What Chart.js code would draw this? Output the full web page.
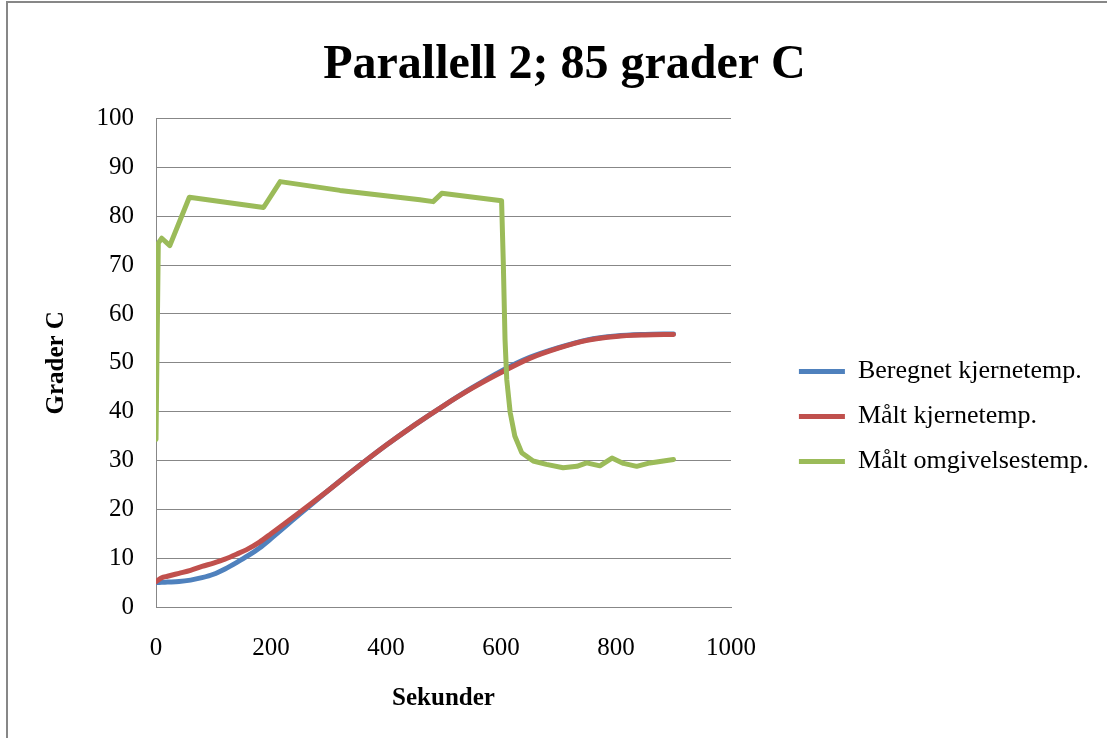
<!DOCTYPE html>
<html><head><meta charset="utf-8">
<script src="https://cdn.jsdelivr.net/npm/chart.js@4.4.1/dist/chart.umd.min.js"></script>
<style>
html,body{margin:0;padding:0;background:#fff;}
#wrap{position:relative;width:1107px;height:738px;overflow:hidden;background:#fff;}
#c{position:absolute;left:0;top:0;}
#frame{position:absolute;left:6px;top:1px;width:1200px;height:800px;border:2px solid #878787;pointer-events:none;}
</style></head><body>
<div id="wrap"><canvas id="c" width="1107" height="738" style="width:1107px;height:738px"></canvas><div id="frame"></div></div>
<script>
const chartTitle = 'Parallell 2; 85 grader C';
const xTitle = 'Sekunder';
const yTitle = 'Grader C';
const seriesNames = ['Beregnet kjernetemp.', 'Målt kjernetemp.', 'Målt omgivelsestemp.'];
const xTicks = [0, 200, 400, 600, 800, 1000];
const yTicks = [0, 10, 20, 30, 40, 50, 60, 70, 80, 90, 100];

const coreTime = [0, 10, 20, 40, 60, 80, 100, 120, 140, 160, 180, 200, 250, 300, 350, 400, 450, 500, 550, 600, 650, 700, 750, 800, 850, 900];
const beregnet = [5.0, 5.05, 5.1, 5.2, 5.5, 6.0, 6.7, 7.8, 9.1, 10.5, 12.1, 14.0, 19.0, 23.9, 28.6, 33.1, 37.3, 41.2, 44.9, 48.3, 51.1, 53.1, 54.7, 55.5, 55.8, 55.9];
const maltKjerne = [5.2, 6.0, 6.3, 6.9, 7.5, 8.3, 9.0, 9.8, 10.8, 11.9, 13.3, 15.0, 19.4, 23.9, 28.6, 33.1, 37.3, 41.2, 44.8, 48.0, 50.9, 53.0, 54.6, 55.4, 55.7, 55.8];

const ambientTime = [0, 4, 10, 24, 58, 187, 216, 320, 459, 482, 497, 601, 604, 607, 610, 616, 624, 636, 656, 679, 708, 732, 749, 772, 793, 813, 836, 859, 900];
const maltOmgivelse = [34.3, 74.5, 75.5, 74.0, 83.9, 81.8, 87.1, 85.3, 83.4, 83.0, 84.7, 83.2, 70.5, 54.8, 46.6, 39.8, 35.0, 31.6, 29.9, 29.2, 28.5, 28.8, 29.5, 28.9, 30.5, 29.4, 28.8, 29.5, 30.2];

const colors = ['#4F81BD', '#C0504D', '#9BBB59'];
const gridColor = '#878787';
const serif = "'Liberation Serif', 'Times New Roman', serif";

Chart.defaults.font.family = serif;
Chart.defaults.color = '#000';

// layout targets (pixels)
const W = 1107, padL = 30, padR = 8, padB = 23;
const plotLeft = 156, plotRight = 731, plotBottom = 607;
const legendFont = 26, legendLine = 46, legendPad = 19;

// measure legend width the way Chart.js does, so the gap to the plot can be sized
const mctx = document.createElement('canvas').getContext('2d');
mctx.font = legendFont + "px " + serif;
const maxText = Math.max.apply(null, seriesNames.map(s => mctx.measureText(s).width));
const legendWidth = legendPad + legendLine + legendFont / 2 + maxText;
const gapWidth = Math.max(0, (W - padR - legendWidth) - plotRight - 10);

const pts = (xs, ys) => xs.map((x, i) => ({x: x, y: ys[i]}));

new Chart(document.getElementById('c'), {
  type: 'scatter',
  data: {
    datasets: [
      {label: seriesNames[0], data: pts(coreTime, beregnet), borderColor: colors[0], backgroundColor: colors[0], order: 3, cubicInterpolationMode: 'monotone'},
      {label: seriesNames[1], data: pts(coreTime, maltKjerne), borderColor: colors[1], backgroundColor: colors[1], order: 2, cubicInterpolationMode: 'monotone'},
      {label: seriesNames[2], data: pts(ambientTime, maltOmgivelse), borderColor: colors[2], backgroundColor: colors[2], order: 1, tension: 0}
    ].map(d => Object.assign({showLine: true, pointRadius: 0, pointHoverRadius: 0, borderWidth: 5, fill: false, borderCapStyle: 'round', borderJoinStyle: 'round'}, d))
  },
  options: {
    responsive: false,
    animation: false,
    events: [],
    layout: {padding: {left: padL, right: padR, top: 0, bottom: padB}},
    plugins: {
      title: {
        display: true, text: chartTitle, color: '#000',
        font: {family: serif, size: 48, weight: 'bold', lineHeight: 1.2},
        padding: {top: 37, bottom: 24}
      },
      legend: {
        position: 'right', align: 'start', fullSize: false, maxWidth: 420,
        title: {display: true, text: '', font: {size: 10, lineHeight: 1}, padding: {top: 211, bottom: 0}},
        labels: {
          usePointStyle: true, pointStyle: 'line', pointStyleWidth: legendLine,
          font: {family: serif, size: legendFont}, color: '#000', padding: legendPad,
          sort: (a, b) => a.datasetIndex - b.datasetIndex
        }
      },
      tooltip: {enabled: false}
    },
    scales: {
      x: {
        type: 'linear', position: 'bottom',
        min: xTicks[0], max: xTicks[xTicks.length - 1],
        afterBuildTicks: s => { s.ticks = xTicks.map(v => ({value: v})); },
        afterFit: s => { s.height = 738 - padB - plotBottom; },
        grid: {display: false, drawTicks: false},
        border: {display: true, color: gridColor, width: 1},
        ticks: {font: {family: serif, size: 25}, color: '#000', padding: 26, maxRotation: 0, callback: v => String(v)},
        title: {display: true, text: xTitle, color: '#000', font: {family: serif, size: 25, weight: 'bold', lineHeight: 1.2}, padding: {top: 0, bottom: 1}}
      },
      y: {
        type: 'linear', position: 'left',
        min: yTicks[0], max: yTicks[yTicks.length - 1],
        afterBuildTicks: s => { s.ticks = yTicks.map(v => ({value: v})); },
        afterFit: s => { s.width = plotLeft - padL; },
        grid: {display: true, color: gridColor, lineWidth: 1, drawTicks: false},
        border: {display: true, color: gridColor, width: 1},
        ticks: {font: {family: serif, size: 25}, color: '#000', padding: 22, callback: v => String(v)},
        title: {display: true, text: yTitle, color: '#000', font: {family: serif, size: 25, weight: 'bold', lineHeight: 1.2}, padding: {top: 12, bottom: 0}}
      },
      gap: {
        type: 'linear', position: 'right', display: true,
        grid: {display: false, drawTicks: false},
        border: {display: false},
        ticks: {display: false},
        afterFit: s => { s.width = gapWidth; }
      }
    }
  }
});
</script>
</body></html>
